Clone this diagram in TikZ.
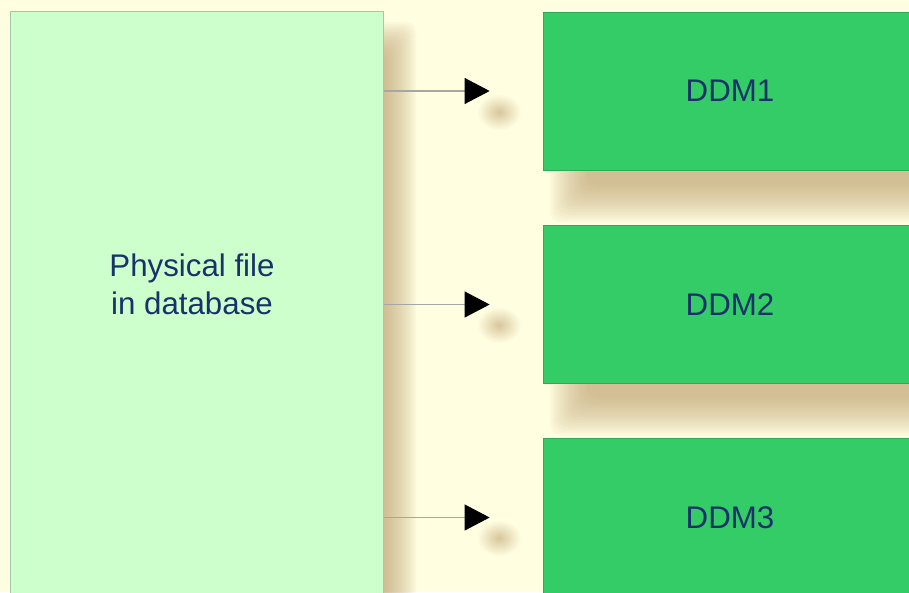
\documentclass[tikz,border=0pt]{standalone}
\usepackage{fontspec}
\setmainfont{Liberation Sans}
\usetikzlibrary{arrows.meta}

\definecolor{bgcream}{RGB}{255,254,225}
\definecolor{physgreen}{RGB}{204,255,204}
\definecolor{ddmgreen}{RGB}{51,204,102}
\definecolor{shadowtan}{RGB}{190,160,110}
\definecolor{textblue}{RGB}{25,50,105}

% soft shadow: stacked see-through rectangles
\newcommand{\softshadow}[5]{%
  \foreach \i in {0,...,15}
    \fill[shadowtan, opacity=0.06, rounded corners=6pt]
      ({#1+\i*#5},{#2+\i*#5}) rectangle ({#3-\i*#5},{#4-\i*#5});}

\tikzset{
  labeltext/.style={text=textblue, font=\fontsize{17.8}{21.6}\selectfont},
  physbox/.style={draw=physgreen!55!gray, line width=0.6pt, fill=physgreen,
    minimum width=7.48cm, minimum height=12.36cm},
  ddmbox/.style={labeltext, draw=ddmgreen!85!black, line width=0.5pt, fill=ddmgreen,
    minimum width=7.48cm, minimum height=3.16cm},
  flow/.style={gray!70, line width=0.6pt, shorten >=1.06cm,
    -{Triangle[length=0.5cm, width=0.52cm, color=black]}},
  blob/.style={inner color=shadowtan!60!bgcream, outer color=bgcream}
}

\begin{document}
\begin{tikzpicture}[x=0.02cm, y=-0.02cm]
    % Background
    \fill[bgcream] (0,0) rectangle (909,592);
    \useasboundingbox (0,0) rectangle (909,592);
    \clip (0,0) rectangle (909,592);

    % Shadows
    \softshadow{20}{22}{416}{660}{2}
    \foreach \y in {12,225,438} {
        \softshadow{550}{\y+10}{960}{\y+210}{2.5}
        \shade[blob] (499,\y+100) ellipse (22 and 18);
    }

    % Physical file
    \node[physbox] (phys) at (197,320) {};
    \node[labeltext, align=center] (physlbl) at (192,284) {Physical file\\in database};

    % DDMs
    \node[ddmbox] (ddm1) at (730,91) {DDM1};
    \node[ddmbox] (ddm2) at (730,304.5) {DDM2};
    \node[ddmbox] (ddm3) at (730,517.5) {DDM3};

    % Arrows
    \foreach \n in {1,2,3}
        \draw[flow] (phys.east |- ddm\n.west) -- (ddm\n.west);
\end{tikzpicture}
\end{document}
